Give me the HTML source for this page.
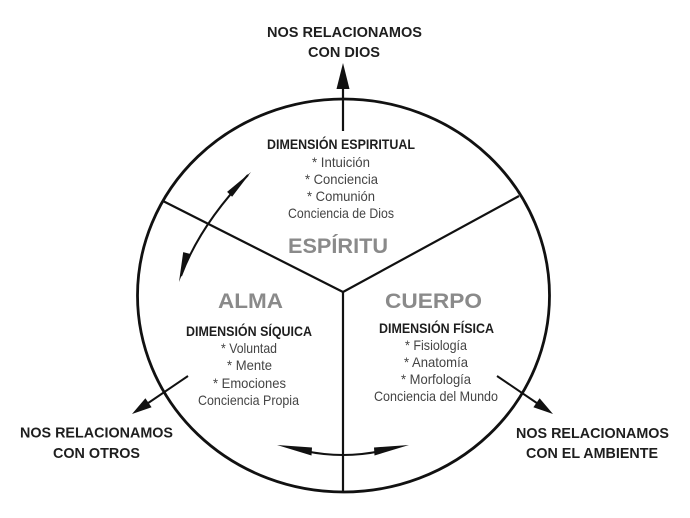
<!DOCTYPE html>
<html>
<head>
<meta charset="utf-8">
<style>
html,body{margin:0;padding:0;background:#fff;}
svg{display:block;}
text{font-family:"Liberation Sans",Arial,sans-serif;}
.h{font-weight:bold;fill:#1e1e1e;}
.i{fill:#444;}
.g{font-weight:bold;fill:#8a8a8a;}
</style>
</head>
<body>
<svg width="690" height="518" viewBox="0 0 690 518" xmlns="http://www.w3.org/2000/svg">
  <!-- main circle -->
  <ellipse cx="343.5" cy="295.5" rx="206" ry="196.5" fill="none" stroke="#111" stroke-width="2.8"/>
  <!-- dividers -->
  <line x1="163" y1="201" x2="343" y2="292" stroke="#111" stroke-width="2.2"/>
  <line x1="519" y1="196" x2="343" y2="292" stroke="#111" stroke-width="2.2"/>
  <line x1="343" y1="292" x2="343" y2="492" stroke="#111" stroke-width="2.2"/>

  <!-- top arrow -->
  <line x1="343" y1="131" x2="343" y2="84" stroke="#111" stroke-width="2.2"/>
  <polygon points="343,63 349.5,89 336.5,89" fill="#111"/>

  <!-- left out arrow -->
  <line x1="188" y1="376" x2="146" y2="404.5" stroke="#111" stroke-width="2"/>
  <polygon points="132,414 151.6,407.3 145.4,398.3" fill="#111"/>

  <!-- right out arrow -->
  <line x1="497" y1="376" x2="539" y2="404.5" stroke="#111" stroke-width="2"/>
  <polygon points="553,414 533.4,407.3 539.6,398.3" fill="#111"/>

  <!-- left curved double arrow -->
  <path d="M 248 175 Q 200 225 181 276" fill="none" stroke="#111" stroke-width="2"/>
  <polygon points="251,172 232.1,196.7 227.1,191.9" fill="#111"/>
  <polygon points="179,282 190,253.9 183.2,252.1" fill="#111"/>

  <!-- bottom curved double arrow -->
  <path d="M 305 451 Q 343 459 381 451" fill="none" stroke="#111" stroke-width="2"/>
  <polygon points="277,445 312,447.5 311.5,455.5" fill="#111"/>
  <polygon points="409,445 374,447.5 374.5,455.5" fill="#111"/>

  <!-- top labels -->
  <text class="h" x="344.5" y="37" font-size="15" text-anchor="middle" textLength="155" lengthAdjust="spacingAndGlyphs">NOS RELACIONAMOS</text>
  <text class="h" x="344" y="57" font-size="15" text-anchor="middle" textLength="72" lengthAdjust="spacingAndGlyphs">CON DIOS</text>

  <!-- spirit section -->
  <text class="h" x="341" y="149" font-size="14" text-anchor="middle" textLength="148" lengthAdjust="spacingAndGlyphs">DIMENSIÓN ESPIRITUAL</text>
  <text class="i" x="341" y="167" font-size="14" text-anchor="middle" textLength="58" lengthAdjust="spacingAndGlyphs">*  Intuición</text>
  <text class="i" x="341.5" y="184" font-size="14" text-anchor="middle" textLength="73" lengthAdjust="spacingAndGlyphs">*  Conciencia</text>
  <text class="i" x="341" y="201" font-size="14" text-anchor="middle" textLength="68" lengthAdjust="spacingAndGlyphs">*  Comunión</text>
  <text class="i" x="341" y="218" font-size="14" text-anchor="middle" textLength="106" lengthAdjust="spacingAndGlyphs">Conciencia de Dios</text>
  <text class="g" x="338" y="253" font-size="21" text-anchor="middle" textLength="100" lengthAdjust="spacingAndGlyphs">ESPÍRITU</text>

  <!-- alma section -->
  <text class="g" x="250.5" y="308" font-size="21" text-anchor="middle" textLength="65" lengthAdjust="spacingAndGlyphs">ALMA</text>
  <text class="h" x="249" y="336" font-size="14" text-anchor="middle" textLength="126" lengthAdjust="spacingAndGlyphs">DIMENSIÓN SÍQUICA</text>
  <text class="i" x="249" y="353" font-size="14" text-anchor="middle" textLength="56" lengthAdjust="spacingAndGlyphs">* Voluntad</text>
  <text class="i" x="249.5" y="370" font-size="14" text-anchor="middle" textLength="45" lengthAdjust="spacingAndGlyphs">*  Mente</text>
  <text class="i" x="249.5" y="388" font-size="14" text-anchor="middle" textLength="73" lengthAdjust="spacingAndGlyphs">*  Emociones</text>
  <text class="i" x="248.5" y="405" font-size="14" text-anchor="middle" textLength="101" lengthAdjust="spacingAndGlyphs">Conciencia Propia</text>

  <!-- cuerpo section -->
  <text class="g" x="433.5" y="308" font-size="21" text-anchor="middle" textLength="97" lengthAdjust="spacingAndGlyphs">CUERPO</text>
  <text class="h" x="436.5" y="333" font-size="14" text-anchor="middle" textLength="115" lengthAdjust="spacingAndGlyphs">DIMENSIÓN FÍSICA</text>
  <text class="i" x="436" y="350" font-size="14" text-anchor="middle" textLength="62" lengthAdjust="spacingAndGlyphs">* Fisiología</text>
  <text class="i" x="436" y="367" font-size="14" text-anchor="middle" textLength="64" lengthAdjust="spacingAndGlyphs">*  Anatomía</text>
  <text class="i" x="436" y="384" font-size="14" text-anchor="middle" textLength="70" lengthAdjust="spacingAndGlyphs">*  Morfología</text>
  <text class="i" x="436" y="401" font-size="14" text-anchor="middle" textLength="124" lengthAdjust="spacingAndGlyphs">Conciencia del Mundo</text>

  <!-- bottom-left labels -->
  <text class="h" x="96.5" y="437.5" font-size="15" text-anchor="middle" textLength="153" lengthAdjust="spacingAndGlyphs">NOS RELACIONAMOS</text>
  <text class="h" x="96.5" y="458" font-size="15" text-anchor="middle" textLength="87" lengthAdjust="spacingAndGlyphs">CON OTROS</text>

  <!-- bottom-right labels -->
  <text class="h" x="592.5" y="438" font-size="15" text-anchor="middle" textLength="153" lengthAdjust="spacingAndGlyphs">NOS RELACIONAMOS</text>
  <text class="h" x="592" y="458" font-size="15" text-anchor="middle" textLength="132" lengthAdjust="spacingAndGlyphs">CON EL AMBIENTE</text>
</svg>
</body>
</html>
